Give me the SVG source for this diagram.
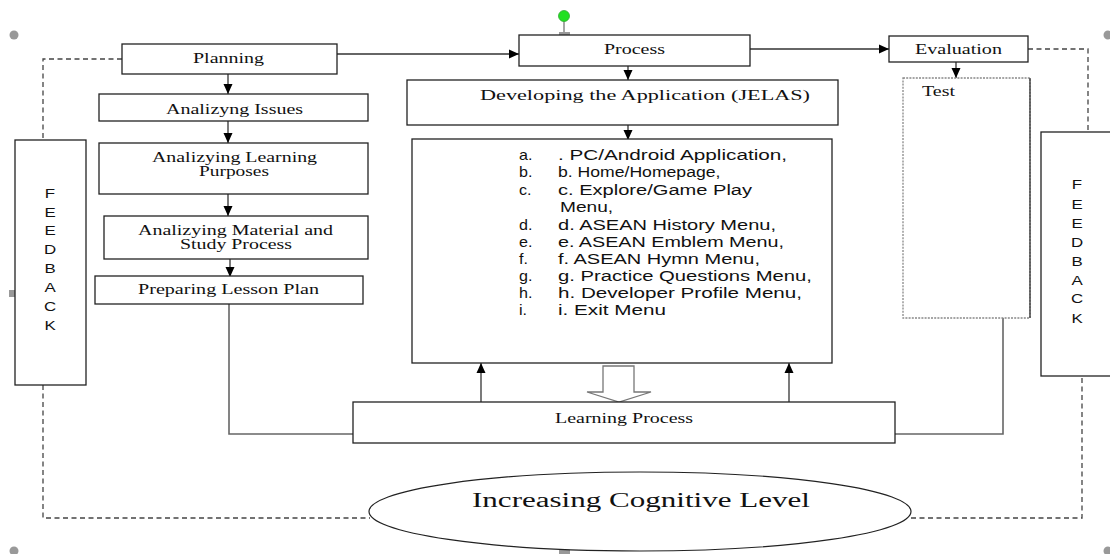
<svg xmlns="http://www.w3.org/2000/svg" width="1110" height="554" viewBox="0 0 1110 554">
<style>
.box{fill:#fff;stroke:#222;stroke-width:1.3}
.ln{fill:none;stroke:#333;stroke-width:1.3}
.gl{fill:none;stroke:#666;stroke-width:1.6}
.dash{fill:none;stroke:#444;stroke-width:1.3;stroke-dasharray:5,3.5}
.ser{font-family:"Liberation Serif","Times New Roman",serif;font-size:14px;fill:#111}
.sans{font-family:"Liberation Sans",Arial,sans-serif;font-size:14px;fill:#111}
.fb{font-family:"Liberation Sans",Arial,sans-serif;font-size:13px;fill:#111;text-anchor:middle}
.hd{fill:#999}
</style>
<defs>
<marker id="ah" markerUnits="userSpaceOnUse" markerWidth="10" markerHeight="10" viewBox="0 0 10 10" refX="10" refY="5" orient="auto">
<path d="M0,0.5 L10,5 L0,9.5 Z" fill="#000"/>
</marker>
</defs>
<rect width="1110" height="554" fill="#fff"/>

<g id="handles">
<circle class="hd" cx="14" cy="35" r="4.5"/>
<circle class="hd" cx="1108" cy="35" r="4.5"/>
<circle class="hd" cx="14" cy="551" r="4.5"/>
<circle class="hd" cx="1108" cy="551" r="4.5"/>
<rect class="hd" x="559" y="546" width="11" height="8"/>
<rect class="hd" x="9" y="290" width="13" height="7"/>
<rect class="hd" x="1105" y="290" width="6" height="7"/>
<line x1="564" y1="20" x2="564" y2="32" stroke="#888" stroke-width="1.5"/>
<rect class="hd" x="559" y="32" width="11" height="7"/>
<circle cx="564" cy="16" r="5.5" fill="#22e022" stroke="#3a3" stroke-width="0.8"/>
</g>

<g id="connectors">
<polyline class="dash" points="122,59 43,59 43,140"/>
<polyline class="dash" points="43,385 43,518 370,518"/>
<polyline class="dash" points="911,518 1082,518 1082,376"/>
<polyline class="dash" points="1028,49 1088,49 1088,132"/>
<line class="ln" x1="337" y1="54" x2="519" y2="54" marker-end="url(#ah)"/>
<line class="ln" x1="750" y1="49" x2="889" y2="49" marker-end="url(#ah)"/>
<line class="ln" x1="228" y1="74" x2="228" y2="94" stroke-width="1.8" marker-end="url(#ah)"/>
<line class="ln" x1="228" y1="121" x2="228" y2="143" stroke-width="1.8" marker-end="url(#ah)"/>
<line class="ln" x1="228" y1="194" x2="228" y2="216" stroke-width="1.8" marker-end="url(#ah)"/>
<line class="ln" x1="230" y1="259" x2="230" y2="277" stroke-width="1.8" marker-end="url(#ah)"/>
<line class="ln" x1="628" y1="66" x2="628" y2="80" stroke-width="1.8" marker-end="url(#ah)"/>
<line class="ln" x1="628" y1="125" x2="628" y2="140" stroke-width="1.8" marker-end="url(#ah)"/>
<line class="ln" x1="956" y1="62" x2="956" y2="78" stroke-width="1.8" marker-end="url(#ah)"/>
<polyline class="gl" points="229,304 229,434 354,434"/>
<polyline class="gl" points="1003,318 1003,434 889,434"/>
<line class="ln" x1="481" y1="402" x2="481" y2="363" stroke-width="1.8" marker-end="url(#ah)"/>
<line class="ln" x1="789" y1="402" x2="789" y2="363" stroke-width="1.6" marker-end="url(#ah)"/>
<path d="M603,366 L634,366 L634,392 L651,392 L619,402 L587,392 L603,392 Z" fill="#fff" stroke="#777" stroke-width="1.3"/>
</g>

<g id="planning">
<rect class="box" x="122" y="44" width="215" height="30"/>
<text class="ser" transform="translate(193,62.5) scale(1.4,1)" textLength="50.7" lengthAdjust="spacingAndGlyphs">Planning</text>
</g>
<g id="issues">
<rect class="box" x="99" y="94" width="269" height="27"/>
<text class="ser" transform="translate(166,113.5) scale(1.4,1)" textLength="97.9" lengthAdjust="spacingAndGlyphs">Analizyng Issues</text>
</g>
<g id="purposes">
<rect class="box" x="99" y="143" width="269" height="51"/>
<text class="ser" transform="translate(152,161.5) scale(1.4,1)" textLength="117.9" lengthAdjust="spacingAndGlyphs">Analizying Learning</text>
<text class="ser" transform="translate(199,175.5) scale(1.4,1)" textLength="50" lengthAdjust="spacingAndGlyphs">Purposes</text>
</g>
<g id="material">
<rect class="box" x="104" y="216" width="264" height="43"/>
<text class="ser" transform="translate(138,235) scale(1.4,1)" textLength="139.3" lengthAdjust="spacingAndGlyphs">Analizying Material and</text>
<text class="ser" transform="translate(180,249) scale(1.4,1)" textLength="80" lengthAdjust="spacingAndGlyphs">Study Process</text>
</g>
<g id="lesson-plan">
<rect class="box" x="95" y="276" width="268" height="28"/>
<text class="ser" transform="translate(138,293.5) scale(1.4,1)" textLength="129.3" lengthAdjust="spacingAndGlyphs">Preparing Lesson Plan</text>
</g>

<g id="feedback-left">
<rect class="box" x="15" y="140" width="71" height="245"/>
<text class="fb" transform="translate(50,198) scale(1.3,1)">F</text>
<text class="fb" transform="translate(50,217) scale(1.3,1)">E</text>
<text class="fb" transform="translate(50,235) scale(1.3,1)">E</text>
<text class="fb" transform="translate(50,254) scale(1.3,1)">D</text>
<text class="fb" transform="translate(50,273) scale(1.3,1)">B</text>
<text class="fb" transform="translate(50,292) scale(1.3,1)">A</text>
<text class="fb" transform="translate(50,311) scale(1.3,1)">C</text>
<text class="fb" transform="translate(50,330) scale(1.3,1)">K</text>
</g>

<g id="process">
<rect class="box" x="519" y="35" width="231" height="31"/>
<text class="ser" transform="translate(604,54) scale(1.4,1)" textLength="43.6" lengthAdjust="spacingAndGlyphs">Process</text>
</g>
<g id="developing">
<rect class="box" x="407" y="80" width="431" height="45"/>
<text class="ser" transform="translate(480,99.5) scale(1.4,1)" textLength="235.7" lengthAdjust="spacingAndGlyphs">Developing the Application (JELAS)</text>
</g>
<g id="menu-list">
<rect class="box" x="412" y="139" width="420" height="224"/>
<g class="sans">
<text transform="translate(519,160) scale(1.15,1)">a.</text>
<text transform="translate(558,160) scale(1.4,1)" textLength="163.6" lengthAdjust="spacingAndGlyphs">. PC/Android Application,</text>
<text transform="translate(519,177) scale(1.15,1)">b.</text>
<text transform="translate(558,177) scale(1.4,1)" textLength="116" lengthAdjust="spacingAndGlyphs">b. Home/Homepage,</text>
<text transform="translate(519,195) scale(1.15,1)">c.</text>
<text transform="translate(558,195) scale(1.4,1)" textLength="138.6" lengthAdjust="spacingAndGlyphs">c. Explore/Game Play</text>
<text transform="translate(560,212) scale(1.4,1)" textLength="37.9" lengthAdjust="spacingAndGlyphs">Menu,</text>
<text transform="translate(519,230) scale(1.15,1)">d.</text>
<text transform="translate(558,230) scale(1.4,1)" textLength="155.7" lengthAdjust="spacingAndGlyphs">d. ASEAN History Menu,</text>
<text transform="translate(519,247) scale(1.15,1)">e.</text>
<text transform="translate(558,247) scale(1.4,1)" textLength="161.4" lengthAdjust="spacingAndGlyphs">e. ASEAN Emblem Menu,</text>
<text transform="translate(519,264) scale(1.15,1)">f.</text>
<text transform="translate(558,264) scale(1.4,1)" textLength="144.3" lengthAdjust="spacingAndGlyphs">f. ASEAN Hymn Menu,</text>
<text transform="translate(519,281) scale(1.15,1)">g.</text>
<text transform="translate(558,281) scale(1.4,1)" textLength="181.4" lengthAdjust="spacingAndGlyphs">g. Practice Questions Menu,</text>
<text transform="translate(519,298) scale(1.15,1)">h.</text>
<text transform="translate(558,298) scale(1.4,1)" textLength="174.3" lengthAdjust="spacingAndGlyphs">h. Developer Profile Menu,</text>
<text transform="translate(519,315) scale(1.15,1)">i.</text>
<text transform="translate(558,315) scale(1.4,1)" textLength="77.1" lengthAdjust="spacingAndGlyphs">i. Exit Menu</text>
</g>
</g>

<g id="evaluation">
<rect class="box" x="889" y="36" width="139" height="26"/>
<text class="ser" transform="translate(915,53.5) scale(1.4,1)" textLength="62.1" lengthAdjust="spacingAndGlyphs">Evaluation</text>
</g>
<g id="test">
<rect x="903" y="78" width="127" height="240" fill="#fff" stroke="#888" stroke-width="1.3" stroke-dasharray="2,1.2"/>
<line x1="1030" y1="78" x2="1030" y2="318" stroke="#333" stroke-width="1.3"/>
<text class="ser" transform="translate(922,95.5) scale(1.4,1)" textLength="23.6" lengthAdjust="spacingAndGlyphs">Test</text>
</g>

<g id="feedback-right">
<rect class="box" x="1041" y="132" width="80" height="244"/>
<text class="fb" transform="translate(1077,189) scale(1.3,1)">F</text>
<text class="fb" transform="translate(1077,209) scale(1.3,1)">E</text>
<text class="fb" transform="translate(1077,228) scale(1.3,1)">E</text>
<text class="fb" transform="translate(1077,247) scale(1.3,1)">D</text>
<text class="fb" transform="translate(1077,266) scale(1.3,1)">B</text>
<text class="fb" transform="translate(1077,285) scale(1.3,1)">A</text>
<text class="fb" transform="translate(1077,303) scale(1.3,1)">C</text>
<text class="fb" transform="translate(1077,323) scale(1.3,1)">K</text>
</g>

<g id="learning-process">
<rect class="box" x="353" y="402" width="542" height="41"/>
<text class="ser" transform="translate(555,423) scale(1.4,1)" textLength="98.6" lengthAdjust="spacingAndGlyphs">Learning Process</text>
</g>

<g id="cognitive">
<ellipse cx="640" cy="511.5" rx="271" ry="39.5" fill="#fff" stroke="#222" stroke-width="1.2"/>
<text class="ser" transform="translate(472,507) scale(1.4,1)" style="font-size:20px" textLength="241.4" lengthAdjust="spacingAndGlyphs">Increasing Cognitive Level</text>
</g>
</svg>
